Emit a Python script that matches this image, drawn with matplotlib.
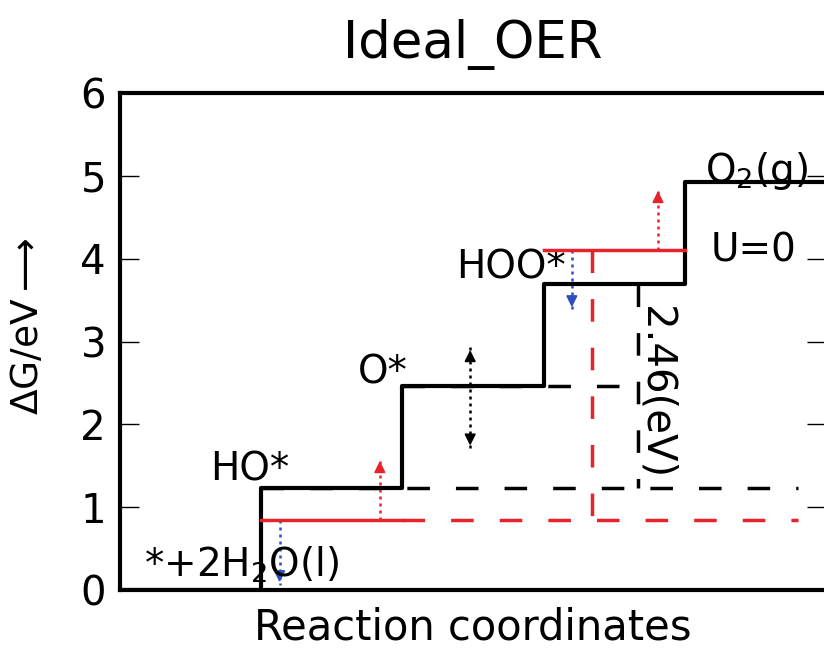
import matplotlib
matplotlib.use('Agg')
import matplotlib.pyplot as plt

# free energy of each intermediate (eV), U = 0
steps = ['*+2H$_2$O(l)', 'HO*', 'O*', 'HOO*', 'O$_2$(g)']
dG = [0.0, 1.23, 2.46, 3.69, 4.92]
# red reference levels
red_low = 0.845
red_high = 4.10
gap_label = '2.46(eV)'
yticks = [0, 1, 2, 3, 4, 5, 6]

plt.rcParams['mathtext.default'] = 'regular'

fig = plt.figure(figsize=(8.24, 6.5), dpi=100)
ax = fig.add_axes([120 / 824, 60 / 650, 706 / 824, 497 / 650])

# black staircase
xs = list(range(len(dG) + 1))
ax.plot(xs, dG + [dG[-1]], drawstyle='steps-post', color='black', lw=3, zorder=3)

dash = (0, (6.5, 7.5))
red = '#e6222b'
# black dashed helper lines
ax.plot([1, 4.8], [dG[1], dG[1]], color='black', lw=2.5, linestyle=dash)
ax.plot([2, 3.68], [dG[2], dG[2]], color='black', lw=2.5, linestyle=dash)
ax.plot([3.67, 3.67], [dG[3], dG[1]], color='black', lw=2.5, linestyle=dash)

# red levels
ax.plot([1, 2], [red_low, red_low], color=red, lw=2.5, zorder=4)
ax.plot([2, 4.8], [red_low, red_low], color=red, lw=2.5, linestyle=dash)
ax.plot([3, 4], [red_high, red_high], color=red, lw=2.5, zorder=4)
ax.plot([3.34, 3.34], [red_high, 0.75], color=red, lw=2.5, linestyle=dash)


def dotted_arrow(x, y0, y1, c, both=False):
    ax.plot([x, x], [y0, y1], linestyle=(0, (1.2, 1.6)), color=c, lw=1.8)
    d = 0.2 if y1 > y0 else -0.2
    ax.annotate('', xy=(x, y1), xytext=(x, y1 - d),
                arrowprops=dict(arrowstyle='-|>', color=c, lw=1.2, mutation_scale=17))
    if both:
        ax.annotate('', xy=(x, y0), xytext=(x, y0 + d),
                    arrowprops=dict(arrowstyle='-|>', color=c, lw=1.2, mutation_scale=17))


dotted_arrow(1.84, red_low, 1.59, red)
dotted_arrow(3.81, red_high, 4.85, red)
dotted_arrow(1.13, red_low, 0.06, '#2b4fc0')
dotted_arrow(3.20, red_high, 3.38, '#2b4fc0')
dotted_arrow(2.48, 1.71, 2.93, 'black', both=True)

# state labels
fs = 28
ax.text(0.17, 0.30, steps[0], fontsize=fs, ha='left', va='center')
ax.text(0.92, 1.45, steps[1], fontsize=fs, ha='center', va='center')
ax.text(1.86, 2.63, steps[2], fontsize=fs, ha='center', va='center')
ax.text(2.77, 3.89, steps[3], fontsize=fs, ha='center', va='center')
ax.text(4.51, 4.92, steps[4], fontsize=fs, ha='center', va='baseline')
ax.text(4.49, 4.10, 'U=0', fontsize=fs, ha='center', va='center')
ax.text(3.79, 2.38, gap_label, fontsize=29, ha='center', va='center', rotation=-90)

ax.set_xlim(0, 5)
ax.set_ylim(0, 6)
ax.set_xticks([])
ax.set_yticks(yticks)
ax.tick_params(axis='y', direction='in', length=14, width=1, labelsize=29, pad=10,
               left=True, right=True)
for s in ax.spines.values():
    s.set_linewidth(3)

ax.set_title('Ideal_OER', fontsize=37, pad=25)
ax.set_xlabel('Reaction coordinates', fontsize=30, labelpad=12)
ax.set_ylabel(r'$\Delta G/eV\longrightarrow$', fontsize=27)
ax.yaxis.set_label_coords(-0.105, 0.53)

fig.savefig('out.png', dpi=100)
